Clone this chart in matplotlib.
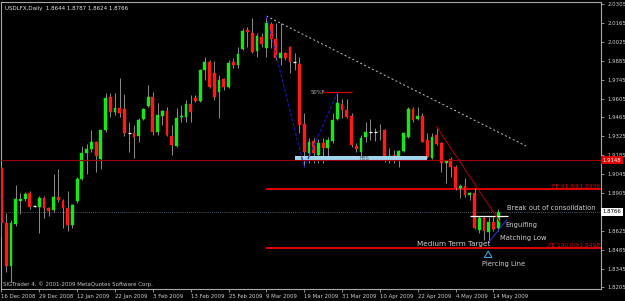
import matplotlib
matplotlib.use('Agg')
import matplotlib.pyplot as plt
from matplotlib.patches import Rectangle

# ── USDLFX daily bars, 16 Dec 2008 .. 15 May 2009 ─────────────
opens = [1.9090, 1.8683, 1.8364, 1.8675, 1.8846, 1.8860, 1.8905, 1.8808, 1.8801, 1.8868,
         1.8794, 1.8779, 1.8875, 1.8846, 1.8794, 1.8668, 1.8846, 1.9009, 1.9201, 1.9231,
         1.9283, 1.9157, 1.9372, 1.9616, 1.9505, 1.9535, 1.9527, 1.9350, 1.9350, 1.9327,
         1.9453, 1.9550, 1.9616, 1.9357, 1.9475, 1.9513, 1.9327, 1.9253, 1.9468, 1.9468,
         1.9564, 1.9609, 1.9587, 1.9816, 1.9876, 1.9794, 1.9653, 1.9750, 1.9690, 1.9876,
         1.9853, 1.9972, 2.0113, 2.0090, 1.9957, 2.0061, 1.9979, 2.0157, 2.0046, 1.9905,
         1.9942, 1.9987, 1.9876, 1.9861, 1.9416, 1.9201, 1.9290, 1.9186, 1.9275, 1.9238,
         1.9290, 1.9453, 1.9564, 1.9520, 1.9475, 1.9253, 1.9209, 1.9320, 1.9357, 1.9357,
         1.9361, 1.9372, 1.9172, 1.9186, 1.9149, 1.9216, 1.9320, 1.9527, 1.9453, 1.9475,
         1.9298, 1.9164, 1.9335, 1.9275, 1.9127, 1.9157, 1.9098, 1.8942, 1.8957, 1.8890,
         1.8905, 1.8631, 1.8720, 1.8616, 1.8690, 1.8644]
highs = [1.9112, 1.8757, 1.8705, 1.8964, 1.8905, 1.8912, 1.8920, 1.8816, 1.8883, 1.8883,
         1.8801, 1.9046, 1.9083, 1.8860, 1.8920, 1.8823, 1.9023, 1.9253, 1.9268, 1.9372,
         1.9290, 1.9372, 1.9646, 1.9646, 1.9646, 1.9757, 1.9638, 1.9431, 1.9409, 1.9461,
         1.9535, 1.9705, 1.9653, 1.9572, 1.9520, 1.9542, 1.9409, 1.9535, 1.9557, 1.9594,
         1.9631, 1.9631, 1.9824, 1.9913, 1.9889, 1.9883, 1.9779, 1.9757, 1.9889, 1.9905,
         1.9987, 2.0128, 2.0135, 2.0202, 2.0090, 2.0090, 2.0216, 2.0172, 2.0165, 2.0165,
         1.9950, 1.9994, 1.9942, 1.9913, 1.9498, 1.9313, 1.9313, 1.9305, 1.9313, 1.9320,
         1.9498, 1.9646, 1.9601, 1.9601, 1.9498, 1.9275, 1.9335, 1.9431, 1.9453, 1.9387,
         1.9416, 1.9379, 1.9238, 1.9224, 1.9224, 1.9350, 1.9542, 1.9542, 1.9542, 1.9498,
         1.9350, 1.9350, 1.9394, 1.9283, 1.9149, 1.9172, 1.9112, 1.8972, 1.9016, 1.8912,
         1.8942, 1.8734, 1.8734, 1.8727, 1.8734, 1.8787]
lows = [1.8579, 1.8319, 1.8245, 1.8660, 1.8749, 1.8846, 1.8786, 1.8801, 1.8608, 1.8720,
        1.8734, 1.8764, 1.8838, 1.8646, 1.8623, 1.8646, 1.8831, 1.9001, 1.9046, 1.9209,
        1.9060, 1.9083, 1.9357, 1.9468, 1.9483, 1.9468, 1.9327, 1.9209, 1.9164, 1.9283,
        1.9446, 1.9542, 1.9335, 1.9335, 1.9409, 1.9327, 1.9186, 1.9246, 1.9431, 1.9431,
        1.9431, 1.9579, 1.9579, 1.9742, 1.9683, 1.9594, 1.9461, 1.9668, 1.9683, 1.9831,
        1.9831, 1.9965, 1.9987, 1.9942, 1.9913, 1.9987, 1.9913, 1.9979, 1.9889, 1.9853,
        1.9889, 1.9794, 1.9816, 1.9350, 1.9095, 1.9127, 1.9127, 1.9127, 1.9127, 1.9164,
        1.9275, 1.9446, 1.9461, 1.9461, 1.9246, 1.9209, 1.9164, 1.9283, 1.9298, 1.9290,
        1.9298, 1.9135, 1.9127, 1.9127, 1.9098, 1.9209, 1.9313, 1.9431, 1.9446, 1.9283,
        1.9164, 1.9157, 1.9261, 1.9060, 1.8979, 1.9023, 1.8927, 1.8868, 1.8875, 1.8853,
        1.8638, 1.8608, 1.8557, 1.8542, 1.8623, 1.8624]
closes = [1.8683, 1.8364, 1.8683, 1.8860, 1.8860, 1.8897, 1.8801, 1.8808, 1.8868, 1.8794,
          1.8771, 1.8875, 1.8853, 1.8794, 1.8668, 1.8816, 1.9009, 1.9201, 1.9231, 1.9283,
          1.9179, 1.9372, 1.9609, 1.9505, 1.9535, 1.9498, 1.9350, 1.9350, 1.9320, 1.9446,
          1.9527, 1.9616, 1.9357, 1.9483, 1.9513, 1.9335, 1.9261, 1.9461, 1.9475, 1.9564,
          1.9505, 1.9587, 1.9816, 1.9876, 1.9690, 1.9616, 1.9742, 1.9690, 1.9868, 1.9853,
          1.9935, 2.0105, 2.0098, 1.9950, 2.0068, 2.0009, 2.0165, 2.0046, 1.9905, 1.9942,
          1.9905, 1.9876, 1.9876, 1.9409, 1.9209, 1.9283, 1.9201, 1.9275, 1.9238, 1.9298,
          1.9446, 1.9572, 1.9520, 1.9468, 1.9261, 1.9231, 1.9313, 1.9357, 1.9357, 1.9357,
          1.9366, 1.9164, 1.9179, 1.9149, 1.9216, 1.9350, 1.9527, 1.9446, 1.9475, 1.9283,
          1.9172, 1.9320, 1.9268, 1.9127, 1.9142, 1.9098, 1.8942, 1.8957, 1.8890, 1.8905,
          1.8646, 1.8720, 1.8623, 1.8690, 1.8638, 1.8766]

date_bars = [0, 8, 16, 24, 32, 40, 48, 56, 64, 72, 80, 88, 96, 104]
date_labels = ["16 Dec 2008", "29 Dec 2008", "12 Jan 2009", "22 Jan 2009", "3 Feb 2009",
               "13 Feb 2009", "25 Feb 2009", "9 Mar 2009", "19 Mar 2009", "31 Mar 2009",
               "10 Apr 2009", "22 Apr 2009", "4 May 2009", "14 May 2009"]
price_ticks = [2.0305, 2.0165, 2.0025, 1.9885, 1.9745, 1.9605, 1.9465, 1.9325, 1.9185,
               1.9045, 1.8905, 1.8625, 1.8485, 1.8345, 1.8205]

last_price = 1.8766
support_price = 1.9148
fe618_price = 1.8936
fe100_price = 1.8498

# drawn objects (bar index, price)
dash_x, dash_y = [56, 110.9], [2.0216, 1.9253]
zigzag_x, zigzag_y = [56, 64, 71], [2.0216, 1.9095, 1.9646]
red_trend_x, red_trend_y = [92, 105.4], [1.9396, 1.8690]
blue_trend_x, blue_trend_y = [103.1, 106.8], [1.8544, 1.8705]
consol_x, consol_y = [99, 107], 1.8734
half_x, half_y = [68, 74], 1.9650
fbs_x, fbs_y = [62, 89.9], [1.9146, 1.9180]
arrow_x, arrow_y = 102.9, [1.8425, 1.8494]

BG = "#000000"
FRAME = "#a8a8a8"
TXT = "#d0d0d0"
BULL = "#19e619"
BEAR = "#ff1a1a"
WICK = "#8c8c8c"

W, H = 625, 301
fig = plt.figure(figsize=(W / 100, H / 100), dpi=100, facecolor=BG)
left_px, right_px, top_px, bot_px = 1.5, 601, 2, 289
ax = fig.add_axes([left_px / W, 1 - bot_px / H, (right_px - left_px) / W, (bot_px - top_px) / H])
ax.set_facecolor(BG)

# px = 1.5 + 4.73*i ; py = (2.0335 - p)/0.000741
ax.set_xlim(0, (right_px - left_px) / 4.73)
ax.set_ylim(2.0335 - bot_px * 0.000741, 2.0335 - top_px * 0.000741)

for sp in ax.spines.values():
    sp.set_color(FRAME)
    sp.set_linewidth(0.8)

# ── Candles ───────────────────────────────────────────────
bw = 0.6
for i, (o, h, l, c) in enumerate(zip(opens, highs, lows, closes)):
    ax.vlines(i, l, h, color=WICK, lw=0.7, zorder=3)
    if abs(c - o) < 0.0002:
        ax.hlines(o, i - bw / 2, i + bw / 2, color="#ffffff", lw=0.9, zorder=4)
        continue
    col = BULL if c > o else BEAR
    ax.add_patch(Rectangle((i - bw / 2, min(o, c)), bw, abs(c - o),
                           facecolor=col, edgecolor=col, lw=0.3, zorder=4))

# ── Horizontal levels ─────────────────────────────────────
ax.axhline(last_price, color="#6a7a88", lw=0.6, ls=(0, (1, 1.5)), zorder=1)
ax.add_patch(Rectangle((fbs_x[0], fbs_y[0]), fbs_x[1] - fbs_x[0], fbs_y[1] - fbs_y[0],
                       facecolor="#9fd6ee", edgecolor="none", zorder=5))
ax.axhline(support_price, color="#a00000", lw=0.8, zorder=5)
ax.hlines(fe618_price, 56, 130, color="#e00000", lw=1.4, zorder=2)
ax.hlines(fe100_price, 56, 130, color="#e00000", lw=1.4, zorder=2)
ax.hlines(half_y, half_x[0], half_x[1], color="#d00000", lw=0.9, zorder=2)
ax.hlines(consol_y, consol_x[0], consol_x[1], color="#ffffff", lw=0.9, zorder=6)

# ── Trend lines ───────────────────────────────────────────
ax.plot(dash_x, dash_y, color="#c8c8c8", lw=0.7, ls=(0, (2, 2.5)), zorder=2)
ax.plot(zigzag_x, zigzag_y, color="#1a1ab4", lw=0.8, ls=(0, (3, 1.5)), zorder=6)
ax.plot(red_trend_x, red_trend_y, color="#a00000", lw=0.8, zorder=6)
ax.plot(blue_trend_x, blue_trend_y, color="#2030d0", lw=0.8, zorder=6)

# hollow up arrow under the piercing-line candle
ax.annotate("", xy=(arrow_x, arrow_y[1]), xytext=(arrow_x, arrow_y[0]),
            arrowprops=dict(arrowstyle="simple,head_length=0.45,head_width=0.55,tail_width=0.25",
                            fc=BG, ec="#3cb8f0", lw=0.7), zorder=7)

# ── Labels on chart ───────────────────────────────────────
fs = 4.9
ax.text(106.8, 1.8794, "Break out of consolidation", color=TXT, fontsize=fs, va="center", ha="left", zorder=7)
ax.text(106.6, 1.8671, "Engulfing", color=TXT, fontsize=fs, va="center", ha="left", zorder=7)
ax.text(105.3, 1.8568, "Matching Low", color=TXT, fontsize=fs, va="center", ha="left", zorder=7)
ax.text(87.8, 1.8530, "Medium Term Target", color=TXT, fontsize=fs + 0.3, va="center", ha="left", zorder=7)
ax.text(101.5, 1.8382, "Piercing Line", color=TXT, fontsize=fs, va="center", ha="left", zorder=7)
ax.text(126.5, fe618_price + 0.0004, "FE 61.8@1.8936", color="#e00000", fontsize=4.2,
        va="bottom", ha="right", zorder=7)
ax.text(126.5, fe100_price + 0.0004, "FE 100.0@1.8498", color="#e00000", fontsize=4.2,
        va="bottom", ha="right", zorder=7)
ax.text(76.8, 1.9163, "FBS", color="#505a64", fontsize=3.8, va="center", ha="center", zorder=7)
ax.text(65.3, half_y, "50%F", color="#b8b8b8", fontsize=3.8, va="center", ha="left", zorder=7)

ax.text(0.006, 0.985, "USDLFX,Daily  1.8644 1.8787 1.8624 1.8766", transform=ax.transAxes,
        color="#e8e8e8", fontsize=4.0, va="top", ha="left")
ax.text(0.003, 0.008, "SIGTrader 4, \u00a9 2001-2009 MetaQuotes Software Corp.", transform=ax.transAxes,
        color="#c8c8c8", fontsize=4.0, va="bottom", ha="left")

# ── Axes ticks ────────────────────────────────────────────
ax.yaxis.tick_right()
ax.set_yticks(price_ticks)
ax.set_yticklabels([f"{v:.4f}" for v in price_ticks])
ax.set_xticks(date_bars)
ax.set_xticklabels(date_labels, ha="left")
ax.tick_params(axis="both", colors=FRAME, labelcolor=TXT, labelsize=3.9, length=2.5, width=0.6)
ax.tick_params(axis="y", pad=2)
ax.tick_params(axis="x", pad=1)

# price boxes on the right scale
ax.annotate(f"{last_price:.4f}", xy=(1.003, last_price), xycoords=("axes fraction", "data"),
            fontsize=3.9, color="#000000", va="center", ha="left", annotation_clip=False,
            bbox=dict(boxstyle="square,pad=0.25", fc="#ffffff", ec="none"), zorder=8)
ax.annotate(f"{support_price:.4f}", xy=(1.003, support_price), xycoords=("axes fraction", "data"),
            fontsize=3.9, color="#ffffff", va="center", ha="left", annotation_clip=False,
            bbox=dict(boxstyle="square,pad=0.25", fc="#e00000", ec="none"), zorder=8)

fig.savefig("out.png", dpi=100, facecolor=BG)
